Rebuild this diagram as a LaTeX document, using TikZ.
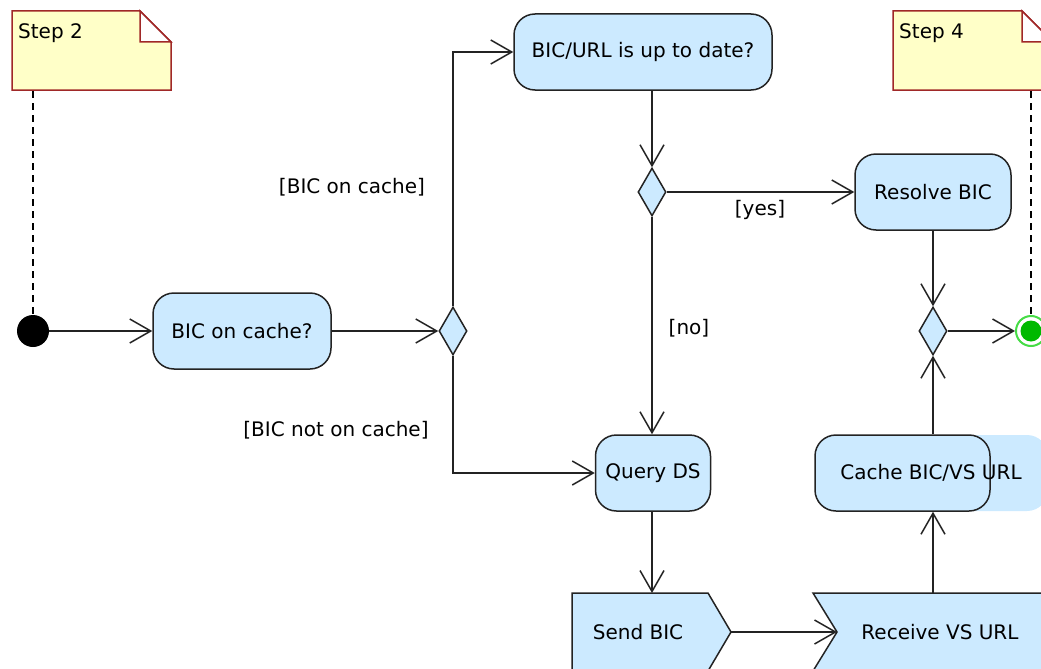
\documentclass[tikz,border=0pt]{standalone}
\usepackage{fontspec}
\setmainfont{DejaVu Sans}
\usetikzlibrary{arrows.meta,shapes.geometric}

\definecolor{actblue}{RGB}{204,234,255}
\definecolor{noteyellow}{RGB}{255,255,200}
\definecolor{notered}{RGB}{160,40,40}
\definecolor{endgreen}{RGB}{0,185,0}
\definecolor{ringgreen}{RGB}{70,220,70}
\definecolor{edgegray}{RGB}{35,35,35}

\tikzset{
	action/.style={draw=edgegray, fill=actblue, rounded corners=21pt, line width=1.5pt,
		minimum height=76pt, inner sep=0pt},
	decision/.style={diamond, draw=edgegray, fill=actblue, line width=1.5pt,
		minimum width=28pt, minimum height=48pt, inner sep=0pt},
	flow/.style={line width=1.5pt, draw=edgegray,
		-{Straight Barb[length=21pt,width=24pt,line width=1.5pt]}},
	notebox/.style={draw=notered, fill=noteyellow, line width=1.5pt},
	anchorline/.style={line width=1.3pt, dash pattern=on 7pt off 5pt},
	guard/.style={inner sep=0pt}
}

\begin{document}
\fontsize{20}{24}\selectfont
\begin{tikzpicture}[x=1pt, y=-1pt]
	\useasboundingbox (0,0) rectangle (1041,669);
	\clip (0,0) rectangle (1041,669);

	% notes
	\draw[notebox] (12,11) -- (140,11) -- (171,42) -- (171,90) -- (12,90) -- cycle;
	\draw[notebox, fill=white] (140,11) -- (171,42) -- (140,42) -- cycle;
	\node[anchor=west, inner sep=0pt] (step2) at (18,33) {Step 2};
	\draw[notebox] (893,11) -- (1022,11) -- (1053,42) -- (1053,90) -- (893,90) -- cycle;
	\draw[notebox, fill=white] (1022,11) -- (1053,42) -- (1022,42) -- cycle;
	\node[anchor=west, inner sep=0pt] (step4) at (899,33) {Step 4};

	% start / end
	\node[circle, fill=black, minimum size=32pt, inner sep=0pt] (start) at (33,331) {};
	\node[circle, draw=ringgreen, line width=2pt, fill=white, minimum size=30pt, inner sep=0pt] (stop) at (1031,331) {};
	\node[circle, fill=endgreen, minimum size=21pt, inner sep=0pt] (stopdot) at (1031,331) {};
	\draw[anchorline] (33,91) -- (start.north);
	\draw[anchorline] (1031,91) -- (stop.north);

	% actions
	\node[action, minimum width=178pt] (oncache) at (242,331) {BIC on cache?};
	\node[action, minimum width=258pt] (uptodate) at (643,52) {BIC/URL is up to date?};
	\node[action, minimum width=156pt] (resolve) at (933,192) {Resolve BIC};
	\node[action, minimum width=115pt] (query) at (653,473) {Query DS};
	\fill[actblue, rounded corners=21pt] (815,435) rectangle (1048,511);
	\node[action, fill=none, minimum width=175pt] (cache) at (902.5,473) {};
	\node[inner sep=0pt] (cachetext) at (931,473) {Cache BIC/VS URL};

	% decisions
	\node[decision] (dec1) at (453,331) {};
	\node[decision] (dec2) at (652,192) {};
	\node[decision] (dec3) at (933,331) {};

	% send / receive
	\draw[draw=edgegray, fill=actblue, line width=1.5pt]
		(572,593) -- (708,593) -- (731,632) -- (708,671) -- (572,671) -- cycle;
	\node (sendtext) at (638,632) {Send BIC};
	\draw[draw=edgegray, fill=actblue, line width=1.5pt]
		(813,593) -- (1070,593) -- (1070,671) -- (813,671) -- (837,632) -- cycle;
	\node (recvtext) at (940,632) {Receive VS URL};
	\coordinate (sendtop) at (652,593);
	\coordinate (sendtip) at (731,632);
	\coordinate (recvnotch) at (837,632);
	\coordinate (recvtop) at (933,593);

	% flows
	\draw[flow] (start) -- (oncache.west);
	\draw[flow] (oncache.east) -- (dec1.west);
	\draw[flow] (dec1.north) |- (uptodate.west);
	\draw[flow] (dec1.south) |- (query.west);
	\draw[flow] (uptodate.south -| dec2) -- (dec2.north);
	\draw[flow] (dec2.east) -- (resolve.west);
	\draw[flow] (dec2.south) -- (query.north -| dec2);
	\draw[flow] (resolve.south) -- (dec3.north);
	\draw[flow] (dec3.east) -- (stop.west);
	\draw[flow] (query.south -| sendtop) -- (sendtop);
	\draw[flow] (sendtip) -- (recvnotch);
	\draw[flow] (recvtop) -- (recvtop |- cache.south);
	\draw[flow] (recvtop |- cache.north) -- (dec3.south);

	% guards
	\node[guard] (gcache) at (352,187) {[BIC on cache]};
	\node[guard] (gnocache) at (336,430) {[BIC not on cache]};
	\node[guard] (gyes) at (760,210) {[yes]};
	\node[guard] (gno) at (689,328) {[no]};
\end{tikzpicture}
\end{document}
